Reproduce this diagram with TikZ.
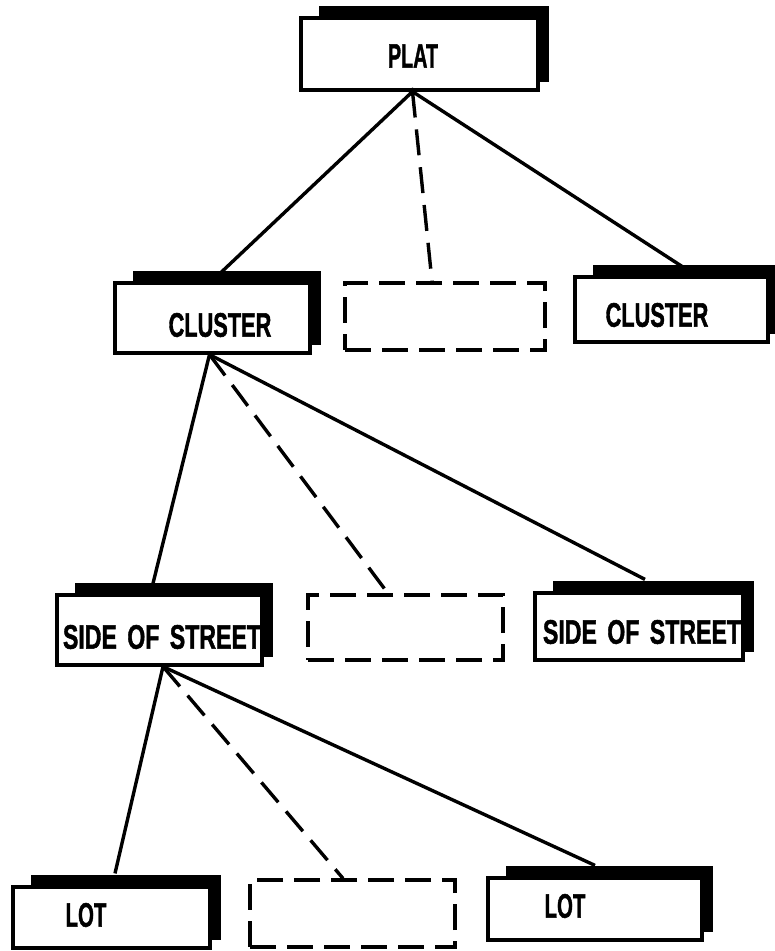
\documentclass[tikz,border=0pt]{standalone}
\usepackage{fontspec}
\setmainfont{Liberation Sans}[BoldFeatures={FakeBold=1.6}]
\usetikzlibrary{calc,backgrounds}
\begin{document}
\begin{tikzpicture}[x=1pt,y=-1pt,
  frontbox/.style={draw,fill=white,line width=3.2pt,inner sep=0pt},
  emptybox/.style={draw,line width=3.2pt,dash pattern=on 26pt off 11pt,inner sep=0pt},
  caption/.style={font=\bfseries\fontsize{34}{34}\selectfont,inner sep=0pt,anchor=center},
  link/.style={line width=3.4pt},
  dashlink/.style={line width=3.4pt,dash pattern=on 26pt off 12pt}]
\useasboundingbox (0,0) rectangle (775,951);

% level 0
\node[frontbox,minimum width=237pt,minimum height=72pt] (plat) at (419.5,54) {};
\node[caption] (plat-t) at (413,56) {\scalebox{0.58}[1]{PLAT}};

% level 1
\node[frontbox,minimum width=195pt,minimum height=70pt] (clusterL) at (212.5,318) {};
\node[caption] (clusterL-t) at (220,325) {\scalebox{0.64}[1]{CLUSTER}};
\node[emptybox,minimum width=200pt,minimum height=67pt] (dash1) at (445,316.5) {};
\node[frontbox,minimum width=193pt,minimum height=65pt] (clusterR) at (671.5,309.5) {};
\node[caption] (clusterR-t) at (657,315) {\scalebox{0.64}[1]{CLUSTER}};

% level 2
\node[frontbox,minimum width=205pt,minimum height=70pt] (sosL) at (159.5,630) {};
\node[caption] (sosL-t) at (162,637) {\scalebox{0.68}[1]{SIDE\hspace{0.45em}OF\hspace{0.45em}STREET}};
\node[emptybox,minimum width=195pt,minimum height=65pt] (dash2) at (405.5,627.5) {};
\node[frontbox,minimum width=208pt,minimum height=67pt] (sosR) at (639,626.5) {};
\node[caption] (sosR-t) at (642,632) {\scalebox{0.68}[1]{SIDE\hspace{0.45em}OF\hspace{0.45em}STREET}};

% level 3
\node[frontbox,minimum width=197pt,minimum height=61pt] (lotL) at (111.5,917.5) {};
\node[caption] (lotL-t) at (86,915) {\scalebox{0.6}[1]{LOT}};
\node[emptybox,minimum width=205pt,minimum height=67pt] (dash3) at (352.5,913.5) {};
\node[frontbox,minimum width=214pt,minimum height=62pt] (lotR) at (595,909) {};
\node[caption] (lotR-t) at (565,906) {\scalebox{0.6}[1]{LOT}};

% stacked sheets behind the solid boxes
\begin{scope}[on background layer]
\foreach \b in {plat,clusterL,clusterR,sosL,sosR,lotL,lotR}
  \fill ($(\b.north west)+(20,-10)$) rectangle ($(\b.south east)+(9,-10)$);
\end{scope}

% connectors
\coordinate (p0) at ($(plat.south)+(-7,0)$);
\fill (p0) circle (4pt);
\draw[link] (p0) -- ($(clusterL.north)+(7.5,-8)$);
\draw[dashlink] (p0) -- ($(dash1.north)+(-13,0)$);
\draw[link] (p0) -- ($(clusterR.north)+(10.5,-9)$);

\coordinate (p1) at ($(clusterL.south)+(-3,0)$);
\draw[link] (p1) -- ($(sosL.north)+(-6.5,-10)$);
\draw[dashlink] (p1) -- ($(dash2.north)+(-17.5,0)$);
\draw[link] (p1) -- ($(sosR.north)+(6,-12)$);

\coordinate (p2) at ($(sosL.south)+(3.5,0)$);
\draw[link] (p2) -- ($(lotL.north)+(3.5,-12)$);
\draw[dashlink] (p2) -- ($(dash3.north)+(-9.5,0)$);
\draw[link] (p2) -- ($(lotR.north)+(0,-11)$);
\end{tikzpicture}
\end{document}
